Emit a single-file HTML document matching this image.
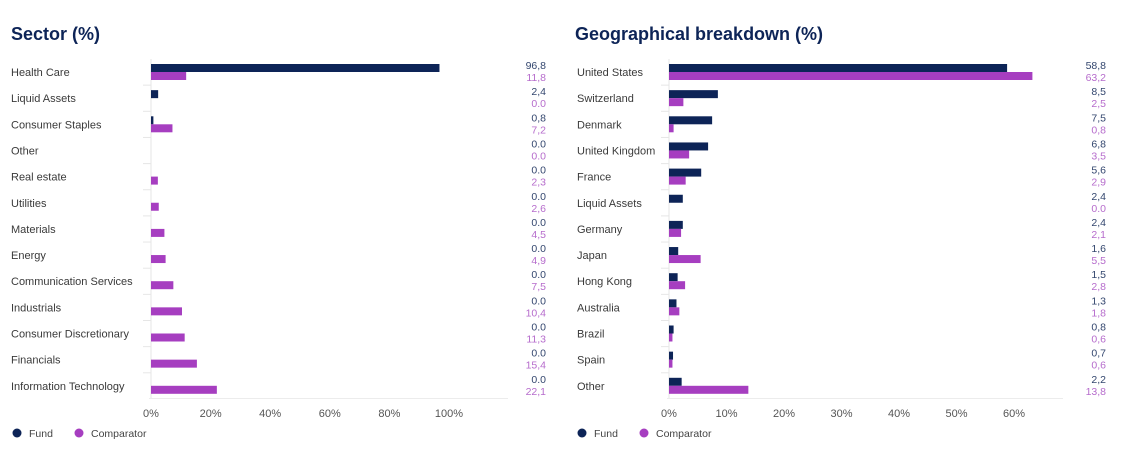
<!DOCTYPE html>
<html><head><meta charset="utf-8">
<style>
html,body{margin:0;padding:0;background:#fff;}
body{width:1130px;height:450px;overflow:hidden;font-family:"Liberation Sans",sans-serif;}
svg text{font-family:"Liberation Sans",sans-serif;}
</style></head>
<body>
<svg id="chart" width="1130" height="450" viewBox="0 0 1130 450" xmlns="http://www.w3.org/2000/svg">
<text x="11" y="40" font-size="18" font-weight="bold" fill="#0d2457">Sector (%)</text>
<text x="575" y="40" font-size="18" font-weight="bold" fill="#0d2457">Geographical breakdown (%)</text>
</svg>
<script>
const sectorCategories = ["Health Care","Liquid Assets","Consumer Staples","Other","Real estate","Utilities","Materials","Energy","Communication Services","Industrials","Consumer Discretionary","Financials","Information Technology"];
const sectorFund = [96.8,2.4,0.8,0.0,0.0,0.0,0.0,0.0,0.0,0.0,0.0,0.0,0.0];
const sectorComparator = [11.8,0.0,7.2,0.0,2.3,2.6,4.5,4.9,7.5,10.4,11.3,15.4,22.1];
const sectorTicks = [0,20,40,60,80,100];

const geoCategories = ["United States","Switzerland","Denmark","United Kingdom","France","Liquid Assets","Germany","Japan","Hong Kong","Australia","Brazil","Spain","Other"];
const geoFund = [58.8,8.5,7.5,6.8,5.6,2.4,2.4,1.6,1.5,1.3,0.8,0.7,2.2];
const geoComparator = [63.2,2.5,0.8,3.5,2.9,0.0,2.1,5.5,2.8,1.8,0.6,0.6,13.8];
const geoTicks = [0,10,20,30,40,50,60];

const NS = "http://www.w3.org/2000/svg";
const svg = document.getElementById("chart");
const FUND = "#0d2457", COMP = "#a63ec0";

function mk(tag, attrs){ const e=document.createElementNS(NS,tag); for(const k in attrs) e.setAttribute(k,attrs[k]); svg.appendChild(e); return e; }
function fmt(v){ return v===0 ? "0.0" : v.toFixed(1).replace(".",","); }

function drawChart(prefix, cats, fund, comp, ticks, labelX, x0, pxPer, lineEnd, valX){
  const y0 = 72, step = 26.15;
  const xs = v => x0 + v*pxPer;
  const ys = i => y0 + i*step;
  // baseline axis
  let ax = mk("line",{x1:x0,y1:ys(0)-13,x2:x0,y2:ys(cats.length-1)+13,stroke:"#e4e4e4","stroke-width":1});
  
  
  let bl = mk("line",{x1:x0-2,y1:398.5,x2:lineEnd,y2:398.5,stroke:"#ececec","stroke-width":1});
  
  
  cats.forEach((c,i)=>{
    const y = ys(i);
    const t = mk("text",{x:labelX,y:y+4,"font-size":11,fill:"#3a3a3a"});
    t.textContent = c;
    
    
    if(i>0){
      const sep = mk("line",{x1:x0-8,y1:y-13,x2:x0,y2:y-13,stroke:"#e6e6e6","stroke-width":1});
      
      
    }
    const fw = xs(fund[i])-x0;
    const rf = mk("rect",{x:x0,y:y-8,width:Math.max(fw,0),height:8,fill:FUND});
    
    
    const cw = xs(comp[i])-x0;
    const rc = mk("rect",{x:x0,y:y,width:Math.max(cw,0),height:8,fill:COMP});
    
    
    const vf = mk("text",{x:valX,y:y-3,"font-size":10.5,fill:"#33466e","text-anchor":"end"});
    vf.textContent = fmt(fund[i]);
    
    
    const vc = mk("text",{x:valX,y:y+9,"font-size":10.5,fill:"#b66ccc","text-anchor":"end"});
    vc.textContent = fmt(comp[i]);
    
    
  });
  ticks.forEach(tv=>{
    const t = mk("text",{x:xs(tv),y:417,"font-size":11,fill:"#555","text-anchor":"middle"});
    t.textContent = tv+"%";
    
    
  });
}
function legend(prefix, x){
  const d1 = mk("circle",{cx:x,cy:433,r:4.5,fill:FUND});
  
  
  const t1 = mk("text",{x:x+12,y:437,"font-size":10.5,fill:"#444"}); t1.textContent="Fund";
  
  
  const d2 = mk("circle",{cx:x+62,cy:433,r:4.5,fill:COMP});
  
  
  const t2 = mk("text",{x:x+74,y:437,"font-size":10.5,fill:"#444"}); t2.textContent="Comparator";
  
  
}
drawChart("sector", sectorCategories, sectorFund, sectorComparator, sectorTicks, 11, 151, 2.98, 508, 546);
drawChart("geo", geoCategories, geoFund, geoComparator, geoTicks, 577, 669, 5.75, 1063, 1106);
legend("sector", 17);
legend("geo", 582);
</script>
</body></html>
